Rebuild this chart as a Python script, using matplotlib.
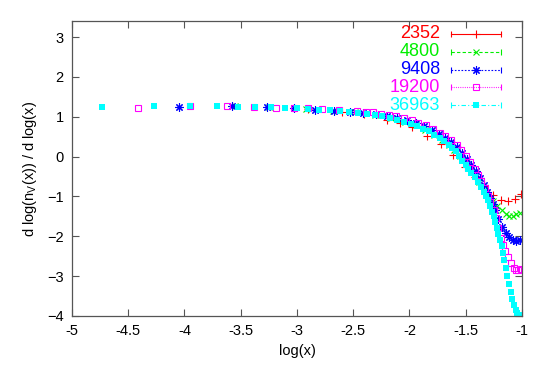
import matplotlib
matplotlib.use("Agg")
import matplotlib.pyplot as plt

plt.rcParams['font.family'] = ['Liberation Sans', 'DejaVu Sans']

labels = ["2352", "4800", "9408", "19200", "36963"]
colors = ["#ff0000", "#00ee00", "#0000ff", "#ff00ff", "#00ffff"]

# series 2352 (red, +)
x_2352 = [-2.90, -2.60, -2.40, -2.20, -2.08, -1.98, -1.84, -1.72, -1.61, -1.51, -1.42,
          -1.34, -1.26, -1.19, -1.12, -1.06, -1.01]
y_2352 = [1.20, 1.13, 1.06, 0.93, 0.84, 0.74, 0.52, 0.31, 0.04, -0.25, -0.50,
          -0.75, -0.97, -1.09, -1.12, -1.06, -0.95]

# series 4800 (green, x)
x_4800 = [-3.55, -3.25, -2.92, -2.68, -2.48, -2.31, -2.16, -2.04, -1.94, -1.86, -1.78,
          -1.71, -1.65, -1.60, -1.55, -1.50, -1.46, -1.42, -1.38, -1.34, -1.30, -1.26,
          -1.22, -1.18, -1.14, -1.11, -1.08, -1.05, -1.02]
y_4800 = [1.27, 1.25, 1.20, 1.15, 1.11, 1.05, 0.97, 0.88, 0.78, 0.67, 0.55,
          0.42, 0.29, 0.17, 0.02, -0.14, -0.28, -0.44, -0.63, -0.83, -1.00, -1.12,
          -1.25, -1.35, -1.44, -1.50, -1.49, -1.44, -1.42]

# series 9408 (blue, asterisk)
x_9408 = [-4.05, -3.58, -3.27, -3.03, -2.84, -2.67, -2.53, -2.41, -2.30, -2.20, -2.11,
          -2.02, -1.94, -1.87, -1.80, -1.74, -1.68, -1.63, -1.58, -1.53, -1.49, -1.45,
          -1.41, -1.37, -1.34, -1.31, -1.28, -1.26, -1.24, -1.21, -1.18, -1.14, -1.11,
          -1.08, -1.05, -1.02]
y_9408 = [1.24, 1.27, 1.25, 1.21, 1.18, 1.15, 1.12, 1.09, 1.06, 1.02, 0.97,
          0.91, 0.84, 0.76, 0.67, 0.57, 0.47, 0.36, 0.24, 0.10, -0.05, -0.20,
          -0.37, -0.55, -0.72, -0.88, -1.05, -1.20, -1.35, -1.57, -1.76, -1.93, -2.03,
          -2.10, -2.13, -2.10]

# series 19200 (magenta, open square)
x_19200 = [-4.41, -3.95, -3.62, -3.38, -3.19, -3.03, -2.90, -2.78, -2.63, -2.47, -2.39,
           -2.32, -2.25, -2.18, -2.12, -2.05, -1.98, -1.92, -1.85, -1.79, -1.73, -1.68,
           -1.63, -1.58, -1.54, -1.50, -1.46, -1.42, -1.39, -1.36, -1.33, -1.30, -1.28,
           -1.25, -1.23, -1.21, -1.19, -1.17, -1.15, -1.12, -1.10, -1.07, -1.05, -1.03,
           -1.01]
y_19200 = [1.23, 1.28, 1.27, 1.24, 1.23, 1.21, 1.21, 1.19, 1.17, 1.15, 1.13,
           1.11, 1.08, 1.05, 1.01, 0.96, 0.91, 0.85, 0.78, 0.70, 0.60, 0.51,
           0.41, 0.29, 0.16, 0.02, -0.13, -0.30, -0.45, -0.62, -0.80, -0.98, -1.15,
           -1.35, -1.55, -1.80, -2.05, -2.22, -2.36, -2.52, -2.66, -2.79, -2.85, -2.85,
           -2.83]

# series 36963 (cyan, filled square)
x_36963 = [-4.73, -4.27, -3.95, -3.71, -3.52, -3.37, -3.23, -3.11, -3.00, -2.90, -2.80,
           -2.71, -2.62, -2.54, -2.46, -2.38, -2.31, -2.24, -2.17, -2.11, -2.05, -1.99,
           -1.93, -1.88, -1.83, -1.78, -1.73, -1.69, -1.65, -1.62, -1.59, -1.56, -1.53,
           -1.50, -1.475, -1.45, -1.42, -1.39, -1.36, -1.34, -1.32, -1.30, -1.28, -1.265,
           -1.25, -1.235, -1.22, -1.21, -1.195, -1.18, -1.17, -1.16, -1.145, -1.13, -1.115,
           -1.10, -1.085, -1.07, -1.055, -1.04, -1.025, -1.01]
y_36963 = [1.24, 1.28, 1.27, 1.27, 1.25, 1.24, 1.24, 1.22, 1.21, 1.20, 1.18,
           1.16, 1.14, 1.12, 1.10, 1.07, 1.04, 1.01, 0.97, 0.92, 0.87, 0.82,
           0.76, 0.70, 0.63, 0.55, 0.47, 0.40, 0.30, 0.22, 0.13, 0.02, -0.10,
           -0.22, -0.31, -0.40, -0.52, -0.63, -0.77, -0.88, -0.98, -1.10, -1.24, -1.38,
           -1.50, -1.63, -1.78, -1.95, -2.10, -2.25, -2.42, -2.60, -2.80, -3.00, -3.20,
           -3.40, -3.58, -3.72, -3.84, -3.93, -3.98, -4.00]

xticks = [-5, -4.5, -4, -3.5, -3, -2.5, -2, -1.5, -1]
xticklabels = ["-5", "-4.5", "-4", "-3.5", "-3", "-2.5", "-2", "-1.5", "-1"]
yticks = [-4, -3, -2, -1, 0, 1, 2, 3]

fig = plt.figure(figsize=(5.54, 3.70), dpi=100)
ax = fig.add_axes([0.130, 0.146, 0.812, 0.797])

series = [(x_2352, y_2352), (x_4800, y_4800), (x_9408, y_9408),
          (x_19200, y_19200), (x_36963, y_36963)]
markers = ['+', 'x', (8, 2, 0), 's', 's']
msizes = [6, 5, 6, 5, 5]
fills = ['full', 'full', 'full', 'none', 'full']
lstyles = ['-', (0, (3, 2)), (0, (1.5, 1.5)), (0, (0.8, 1.2)), (0, (4, 2, 1, 2))]

for (xs, ys), c, m, ms, f in zip(series, colors, markers, msizes, fills):
    if f == 'none':
        ax.plot(xs, ys, linestyle='none', marker=m, ms=ms, mfc='none', mec=c, mew=0.8)
    elif m == 's':
        ax.plot(xs, ys, linestyle='none', marker=m, ms=ms, color=c, mec=c, mew=0)
    else:
        ax.plot(xs, ys, linestyle='none', marker=m, ms=ms, color=c, mew=0.8)

# legend (gnuplot style, drawn in axes coords)
rows = [0.957, 0.896, 0.835, 0.775, 0.715]
for lab, c, m, ms, f, ls, yy in zip(labels, colors, markers, msizes, fills, lstyles, rows):
    ax.text(0.818, yy, lab, color=c, ha='right', va='center', fontsize=13,
            transform=ax.transAxes)
    ax.plot([0.842, 0.953], [yy, yy], color=c, lw=0.8, linestyle=ls,
            transform=ax.transAxes, clip_on=False)
    ax.plot([0.842, 0.953], [yy, yy], linestyle='none', marker='|', ms=5, color=c,
            mew=0.8, transform=ax.transAxes, clip_on=False)
    if f == 'none':
        ax.plot([0.8975], [yy], marker=m, ms=ms, mfc='none', mec=c, mew=0.8,
                transform=ax.transAxes, clip_on=False)
    elif m == 's':
        ax.plot([0.8975], [yy], marker=m, ms=ms, color=c, mec=c, mew=0,
                transform=ax.transAxes, clip_on=False)
    else:
        ax.plot([0.8975], [yy], marker=m, ms=ms, color=c, mew=0.8,
                transform=ax.transAxes, clip_on=False)

ax.set_xlim(-5, -1)
ax.set_ylim(-4, 3.4)
ax.set_xticks(xticks)
ax.set_xticklabels(xticklabels)
ax.set_yticks(yticks)
ax.tick_params(direction='in', length=5, width=0.8, top=True, right=True,
               labelsize=10.5, pad=6, color='#555555')
for s in ax.spines.values():
    s.set_color('#555555')
    s.set_linewidth(0.9)

ax.set_xlabel('log(x)', fontsize=10.5, labelpad=4)
ax.set_ylabel(r'd log(n$_\mathregular{V}$(x)) / d log(x)', fontsize=10.5, labelpad=6)

fig.savefig('out.png', dpi=100)
